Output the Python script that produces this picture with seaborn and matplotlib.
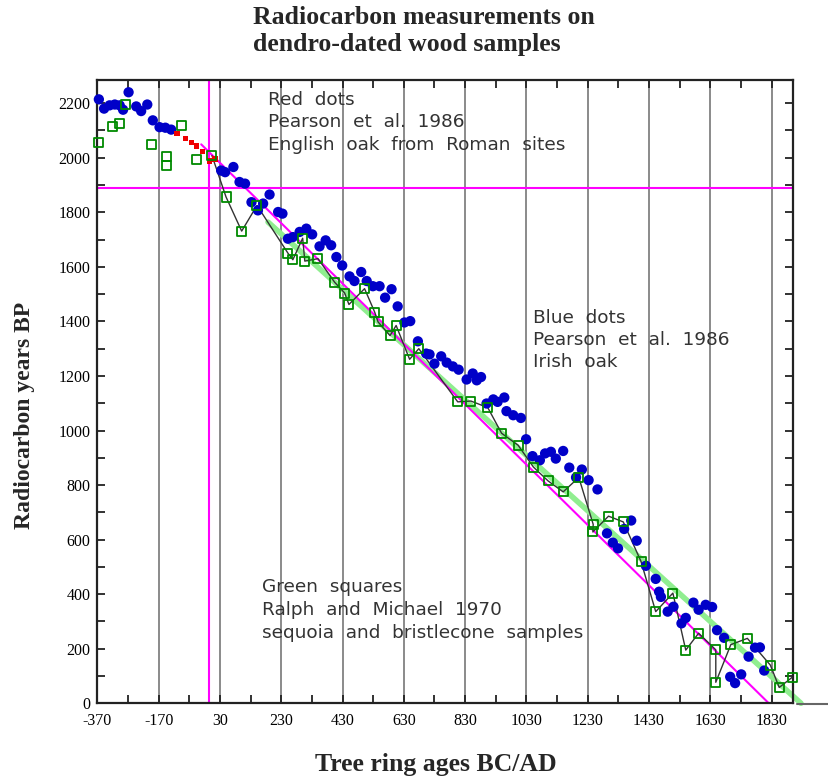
import seaborn as sns
import matplotlib.pyplot as plt
import pandas as pd
from matplotlib.ticker import FixedLocator, MultipleLocator

# Blue dots: Pearson et al. 1986, Irish oak
blue_year = [-365, -348, -330, -313, -297, -286, -268, -243, -227, -207, -189, -167, -148, -129,
             34, 47, 74, 94, 112, 133, 154, 171, 192, 220, 234, 252, 268, 290, 312, 331, 355, 375,
             393, 410, 429, 453, 469, 491, 509, 529, 551, 569, 590, 610, 632, 651, 676, 703, 714,
             730, 752, 770, 790, 809, 835, 855, 868, 882, 900, 922, 936, 958, 965, 987, 1012, 1029,
             1050, 1074, 1091, 1110, 1126, 1150, 1170, 1192, 1211, 1233, 1262, 1293, 1312, 1329,
             1349, 1372, 1390, 1420, 1452, 1463, 1469, 1491, 1510, 1536, 1550, 1575, 1592, 1615,
             1636, 1652, 1675, 1695, 1711, 1731, 1755, 1776, 1792, 1806]
blue_bp = [2214, 2180, 2192, 2195, 2192, 2176, 2240, 2188, 2171, 2195, 2137, 2112, 2110, 2103,
           1953, 1947, 1966, 1911, 1905, 1837, 1807, 1832, 1865, 1801, 1795, 1703, 1709, 1728, 1740,
           1719, 1675, 1697, 1679, 1636, 1605, 1565, 1548, 1581, 1548, 1529, 1529, 1487, 1518, 1455,
           1396, 1401, 1327, 1282, 1279, 1245, 1272, 1249, 1235, 1223, 1187, 1209, 1184, 1196, 1099,
           1114, 1105, 1121, 1071, 1056, 1046, 968, 906, 891, 916, 922, 897, 925, 864, 828, 857, 818,
           784, 623, 589, 568, 639, 670, 596, 504, 456, 409, 390, 336, 354, 293, 313, 369, 343, 361,
           353, 268, 240, 97, 74, 106, 171, 204, 205, 120]

# Red dots: Pearson et al. 1986, English oak from Roman sites
red_year = [-110, -82, -64, -46, -28, -5, 14]
red_bp = [2090, 2069, 2056, 2043, 2022, 1988, 1995]

# Green squares: Ralph and Michael 1970 (early ones, not joined by the line)
green_early_year = [-365, -319, -297, -279, -194, -145, -145, -94, -47]
green_early_bp = [2055, 2116, 2125, 2195, 2048, 2006, 1972, 2118, 1994]

# Green squares joined by the thin black line
green_year = [4, 50, 101, 151, 252, 268, 300, 307, 350, 404, 437, 451, 502, 535, 546, 585, 605,
              649, 679, 806, 849, 904, 949, 1003, 1053, 1101, 1150, 1201, 1248, 1247, 1298, 1346,
              1404, 1452, 1508, 1550, 1592, 1648, 1648, 1697, 1751, 1826, 1855, 1897]
green_bp = [2008, 1856, 1731, 1825, 1650, 1626, 1705, 1621, 1630, 1544, 1504, 1462, 1520, 1434,
            1398, 1348, 1385, 1261, 1300, 1105, 1108, 1084, 990, 946, 866, 815, 775, 828, 656, 628,
            686, 665, 520, 336, 404, 195, 257, 196, 77, 215, 238, 140, 58, 95]

# fitted lines
magenta_fit_year = [-31, 1821]
magenta_fit_bp = [2049, 0]
green_fit_year = [187, 1926]
green_fit_bp = [1764, 0]

x_ticks = list(range(-370, 1900, 200))
y_ticks = list(range(0, 2300, 200))

sns.set_theme(style='ticks')
plt.rcParams['font.family'] = ['Liberation Serif', 'DejaVu Serif']
plt.rcParams['axes.unicode_minus'] = False

fig = plt.figure(figsize=(8.29, 7.81), dpi=100)
ax = fig.add_axes([0.1174, 0.0995, 0.8392, 0.7981])

ax.grid(axis='x', which='major', color='#8a8a8a', lw=1.4, zorder=0)
ax.axvline(-5, color='#ff00ff', lw=1.5, zorder=1)
ax.axhline(1890, color='#ff00ff', lw=1.5, zorder=1)

sns.lineplot(x=green_fit_year, y=green_fit_bp, color='#90ee90', lw=4, ax=ax,
             zorder=2, clip_on=False)
sns.lineplot(x=magenta_fit_year, y=magenta_fit_bp, color='#ff00ff', lw=1.5, ax=ax, zorder=2)
sns.lineplot(x=green_year, y=green_bp, sort=False, estimator=None, color='#333333', lw=1,
             ax=ax, zorder=3)

sns.scatterplot(x=blue_year, y=blue_bp, color='#0000c8', s=55, edgecolor='none', ax=ax,
                zorder=4, clip_on=False)
sns.scatterplot(x=red_year, y=red_bp, color='#ee0000', marker='s', s=14, edgecolor='none',
                ax=ax, zorder=4)
sns.scatterplot(x=green_early_year + green_year, y=green_early_bp + green_bp, marker='s', s=42,
                facecolor='none', edgecolor='#008a00', linewidth=1.3, ax=ax, zorder=5,
                clip_on=False)

# little stub of axis line beyond the plot at bottom right
ax.plot([1914, 2015], [-3, -3], color='#666666', lw=1.5, clip_on=False)

ax.set_xlim(-370, 1900)
ax.set_ylim(0, 2285)
ax.xaxis.set_major_locator(FixedLocator(x_ticks))
ax.xaxis.set_minor_locator(FixedLocator(list(range(-270, 1900, 200))))
ax.yaxis.set_major_locator(FixedLocator(y_ticks))
ax.yaxis.set_minor_locator(MultipleLocator(100))
ax.tick_params(which='both', direction='in', top=True, right=True, length=6, width=1.3,
               color='#222222', labelsize=11.5, labelcolor='black')
ax.tick_params(axis='x', pad=7)
ax.tick_params(axis='y', pad=5)
for sp in ax.spines.values():
    sp.set_linewidth(1.6)
    sp.set_color('#222222')

ax.set_xlabel('Tree ring ages BC/AD', fontsize=18.5, fontweight='bold')
ax.set_ylabel('Radiocarbon years BP', fontsize=17, fontweight='bold')
ax.xaxis.set_label_coords(0.487, -0.08)
ax.yaxis.set_label_coords(-0.09, 0.4625)

note_font = dict(fontsize=13.3, color='#333333', family='DejaVu Sans', va='center', ha='left')
red_lines = ['Red  dots', 'Pearson  et  al.  1986', 'English  oak  from  Roman  sites']
for i, t in enumerate(red_lines):
    ax.text(186, 2212 - i * 82, t, **note_font)
blue_lines = ['Blue  dots', 'Pearson  et  al.  1986', 'Irish  oak']
for i, t in enumerate(blue_lines):
    ax.text(1050, 1411 - i * 80, t, **note_font)
green_lines = ['Green  squares', 'Ralph  and  Michael  1970', 'sequoia  and  bristlecone  samples']
for i, t in enumerate(green_lines):
    ax.text(166, 426 - i * 84, t, **note_font)

fig.text(253 / 829, 1 - 6 / 781, 'Radiocarbon measurements on\ndendro-dated wood samples',
         ha='left', va='top', fontsize=18.5, fontweight='bold', linespacing=1.2)

fig.savefig('out.png', dpi=100)
